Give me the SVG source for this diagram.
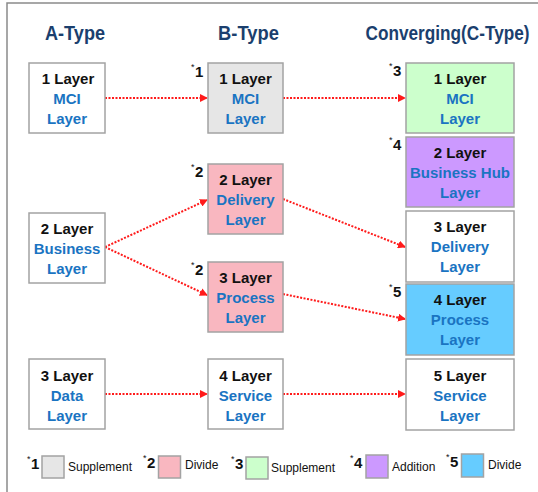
<svg xmlns="http://www.w3.org/2000/svg" width="538" height="492" viewBox="0 0 538 492">
  <style>
    .frame { fill: none; stroke: #8a8a8a; stroke-width: 1.5; }
    .box { stroke: #a3a3a3; stroke-width: 1.5; }
    .head { font-family: "Liberation Sans", Arial, sans-serif; font-weight: bold; font-size: 21px; fill: #1b3f6e; text-anchor: middle; }
    .t1 { font-family: "Liberation Sans", Arial, sans-serif; font-weight: bold; font-size: 15px; fill: #111; text-anchor: middle; }
    .t2 { font-family: "Liberation Sans", Arial, sans-serif; font-weight: bold; font-size: 15px; fill: #1a74c2; text-anchor: middle; }
    .star { font-family: "Liberation Sans", Arial, sans-serif; font-weight: bold; font-size: 15px; fill: #111; }
    .ast { font-family: "Liberation Sans", Arial, sans-serif; font-size: 9px; fill: #111; }
    .leg { font-family: "Liberation Sans", Arial, sans-serif; font-size: 12px; fill: #111; }
    .link { fill: none; stroke: #ff1a1a; stroke-width: 2; stroke-dasharray: 2 1.5; }
    .white { fill: #ffffff; }
    .gray { fill: #e6e6e6; }
    .pink { fill: #f9b7c0; }
    .green { fill: #ccffcc; }
    .purple { fill: #cc99ff; }
    .blue { fill: #66ccff; }
  </style>
  <defs>
    <marker id="arrow" markerWidth="8" markerHeight="8" refX="7" refY="4" orient="auto" markerUnits="userSpaceOnUse">
      <path d="M0,0 L8,4 L0,8 Z" fill="#ff1a1a"/>
    </marker>
  </defs>

  <rect width="538" height="492" fill="#ffffff"/>
  <path class="frame" d="M7,492 V3 H538"/>

  <!-- column headings (condensed horizontally) -->
  <text class="head" transform="translate(75,40) scale(0.8,1)" x="0" y="0" textLength="75" lengthAdjust="spacingAndGlyphs">A-Type</text>
  <text class="head" transform="translate(248.5,40) scale(0.8,1)" x="0" y="0" textLength="76" lengthAdjust="spacingAndGlyphs">B-Type</text>
  <text class="head" transform="translate(447.5,40) scale(0.8,1)" x="0" y="0" textLength="205" lengthAdjust="spacingAndGlyphs">Converging(C-Type)</text>

  <!-- connectors -->
  <g id="connectors">
    <path class="link" d="M105,98 L207,98" marker-end="url(#arrow)"/>
    <path class="link" d="M283,98 L405,98" marker-end="url(#arrow)"/>
    <path class="link" d="M105,247 L207,200" marker-end="url(#arrow)"/>
    <path class="link" d="M105,247 L207,295" marker-end="url(#arrow)"/>
    <path class="link" d="M283,199 L405,247" marker-end="url(#arrow)"/>
    <path class="link" d="M283,294 L405,319" marker-end="url(#arrow)"/>
    <path class="link" d="M105,394 L207,394" marker-end="url(#arrow)"/>
    <path class="link" d="M283,394 L405,394" marker-end="url(#arrow)"/>
  </g>

  <!-- A-Type -->
  <g id="a1">
    <rect class="box white" x="29" y="63" width="76" height="70"/>
    <text class="t1" x="68" y="84">1 Layer</text>
    <text class="t2" x="67" y="104">MCI</text>
    <text class="t2" x="67" y="124">Layer</text>
  </g>
  <g id="a2">
    <rect class="box white" x="29" y="213" width="76" height="70"/>
    <text class="t1" x="67" y="234">2 Layer</text>
    <text class="t2" x="67" y="254">Business</text>
    <text class="t2" x="67" y="274">Layer</text>
  </g>
  <g id="a3">
    <rect class="box white" x="29" y="359" width="76" height="70"/>
    <text class="t1" x="67" y="381">3 Layer</text>
    <text class="t2" x="67" y="401">Data</text>
    <text class="t2" x="67" y="421">Layer</text>
  </g>

  <!-- B-Type -->
  <g id="b1">
    <rect class="box gray" x="208" y="63" width="75" height="70"/>
    <text class="t1" x="245.5" y="84">1 Layer</text>
    <text class="t2" x="245.5" y="104">MCI</text>
    <text class="t2" x="245.5" y="124">Layer</text>
    <text class="ast" x="191" y="70">*</text>
    <text class="star" x="195" y="77">1</text>
  </g>
  <g id="b2">
    <rect class="box pink" x="208" y="164" width="75" height="70"/>
    <text class="t1" x="245.5" y="185">2 Layer</text>
    <text class="t2" x="245.5" y="205">Delivery</text>
    <text class="t2" x="245.5" y="225">Layer</text>
    <text class="ast" x="191" y="170">*</text>
    <text class="star" x="195" y="177">2</text>
  </g>
  <g id="b3">
    <rect class="box pink" x="208" y="262" width="75" height="70"/>
    <text class="t1" x="245.5" y="283">3 Layer</text>
    <text class="t2" x="245.5" y="303">Process</text>
    <text class="t2" x="245.5" y="323">Layer</text>
    <text class="ast" x="191" y="268">*</text>
    <text class="star" x="195" y="275">2</text>
  </g>
  <g id="b4">
    <rect class="box white" x="208" y="359" width="75" height="70"/>
    <text class="t1" x="245.5" y="381">4 Layer</text>
    <text class="t2" x="245.5" y="401">Service</text>
    <text class="t2" x="245.5" y="421">Layer</text>
  </g>

  <!-- Converging (C-Type) -->
  <g id="c1">
    <rect class="box green" x="406" y="63" width="108" height="70"/>
    <text class="t1" x="460" y="84">1 Layer</text>
    <text class="t2" x="460" y="104">MCI</text>
    <text class="t2" x="460" y="124">Layer</text>
    <text class="ast" x="389" y="69">*</text>
    <text class="star" x="393" y="76">3</text>
  </g>
  <g id="c2">
    <rect class="box purple" x="406" y="137" width="108" height="70"/>
    <text class="t1" x="460" y="158">2 Layer</text>
    <text class="t2" x="460" y="178">Business Hub</text>
    <text class="t2" x="460" y="198">Layer</text>
    <text class="ast" x="389" y="143">*</text>
    <text class="star" x="393" y="150">4</text>
  </g>
  <g id="c3">
    <rect class="box white" x="406" y="211" width="108" height="71"/>
    <text class="t1" x="460" y="232">3 Layer</text>
    <text class="t2" x="460" y="252">Delivery</text>
    <text class="t2" x="460" y="272">Layer</text>
  </g>
  <g id="c4">
    <rect class="box blue" x="406" y="284" width="108" height="71"/>
    <text class="t1" x="460" y="305">4 Layer</text>
    <text class="t2" x="460" y="325">Process</text>
    <text class="t2" x="460" y="345">Layer</text>
    <text class="ast" x="389" y="290">*</text>
    <text class="star" x="393" y="297">5</text>
  </g>
  <g id="c5">
    <rect class="box white" x="406" y="359" width="108" height="71"/>
    <text class="t1" x="460" y="381">5 Layer</text>
    <text class="t2" x="460" y="401">Service</text>
    <text class="t2" x="460" y="421">Layer</text>
  </g>

  <!-- legend -->
  <g id="legend">
    <text class="ast" x="27" y="462">*</text>
    <text class="star" x="31" y="469">1</text>
    <rect class="box gray" x="42" y="456" width="22" height="22"/>
    <text class="leg" x="68" y="471">Supplement</text>

    <text class="ast" x="143" y="461">*</text>
    <text class="star" x="147" y="468">2</text>
    <rect class="box pink" x="158.5" y="456" width="22" height="22"/>
    <text class="leg" x="185" y="469">Divide</text>

    <text class="ast" x="231" y="462">*</text>
    <text class="star" x="235" y="469">3</text>
    <rect class="box green" x="246" y="457" width="22" height="22"/>
    <text class="leg" x="271" y="472">Supplement</text>

    <text class="ast" x="350" y="461">*</text>
    <text class="star" x="354" y="468">4</text>
    <rect class="box purple" x="366" y="455" width="22" height="23"/>
    <text class="leg" x="392" y="471">Addition</text>

    <text class="ast" x="446" y="460">*</text>
    <text class="star" x="450" y="467">5</text>
    <rect class="box blue" x="461.5" y="454" width="22" height="23"/>
    <text class="leg" x="488" y="469">Divide</text>
  </g>
</svg>
